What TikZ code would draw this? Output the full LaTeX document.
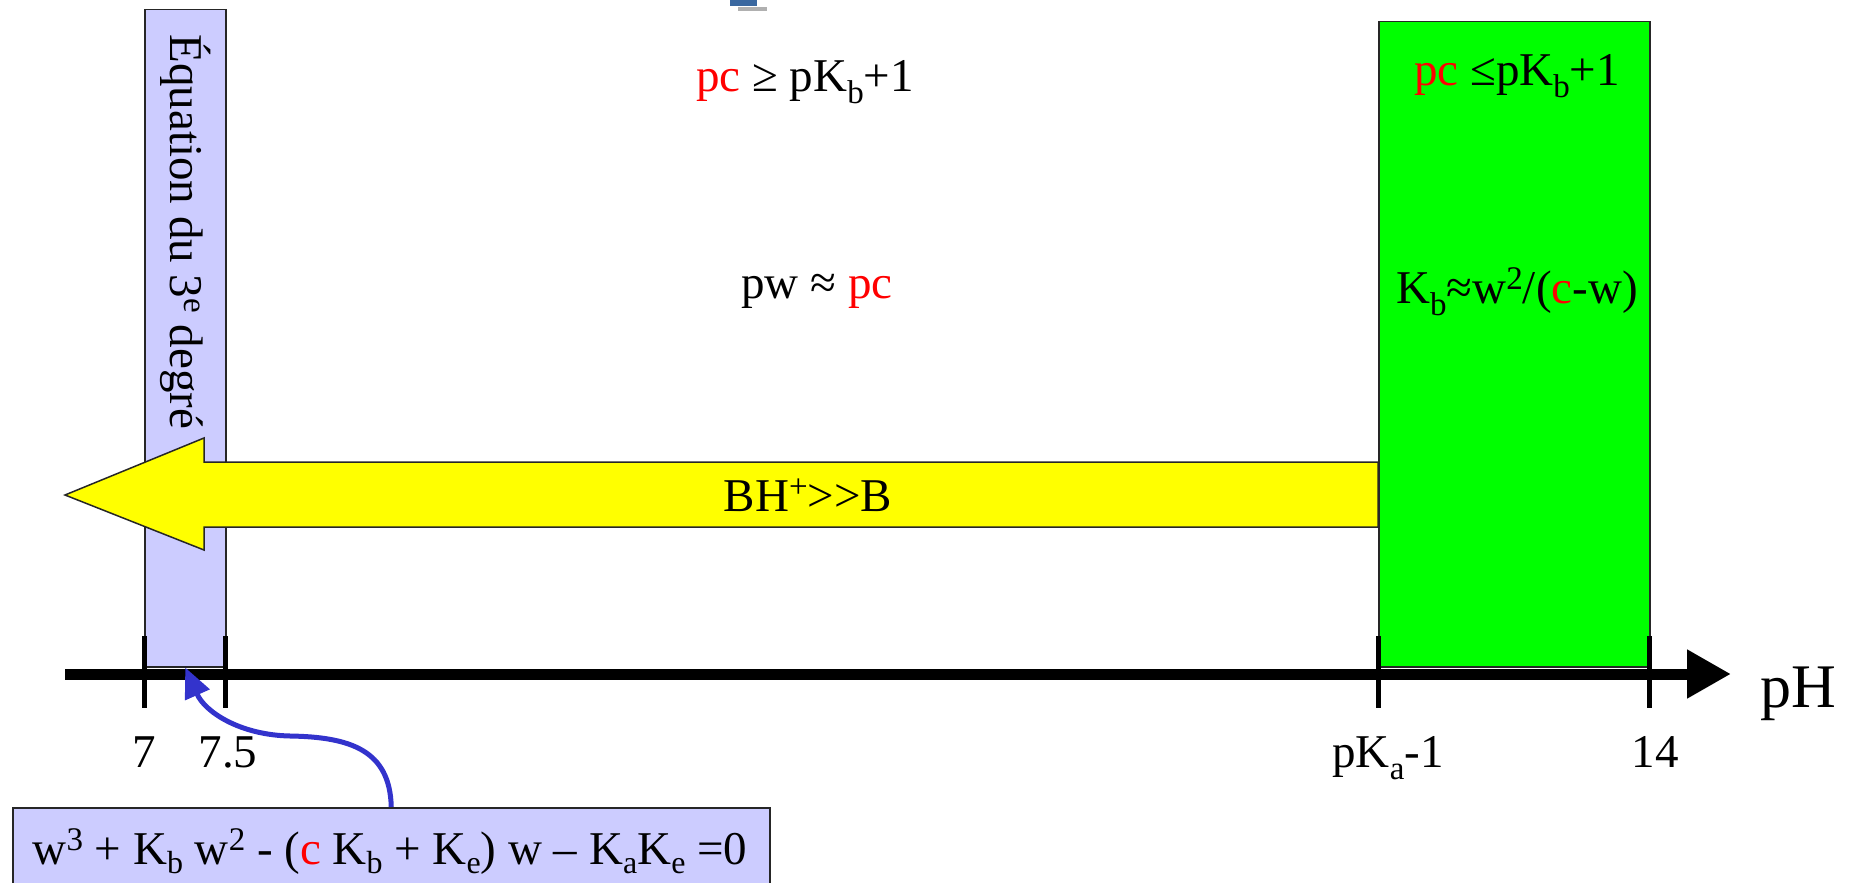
\documentclass[tikz,border=0pt]{standalone}
\usepackage{fontspec}
\setmainfont{Liberation Serif}
\usetikzlibrary{arrows.meta}
\definecolor{lav}{RGB}{204,204,255}
\definecolor{grn}{RGB}{0,255,0}
\definecolor{ylw}{RGB}{255,255,0}
\definecolor{rd}{RGB}{255,0,0}
\definecolor{blu}{RGB}{51,51,204}
\definecolor{logoblue}{RGB}{58,104,160}
\definecolor{logogrey}{RGB}{176,176,176}
\newcommand{\rc}[1]{\textcolor{rd}{#1}}
\newcommand{\sbs}[1]{\raisebox{-12pt}{\fontsize{33}{33}\selectfont #1}}
\newcommand{\sbsl}[1]{\raisebox{-9pt}{\fontsize{32}{32}\selectfont #1}}
\newcommand{\sps}[1]{\raisebox{14pt}{\fontsize{33}{33}\selectfont #1}}
\begin{document}
\begin{tikzpicture}[x=1pt,y=-1pt,
  txt/.style={font=\fontsize{47}{56}\selectfont, inner sep=0pt, anchor=base},
  boxline/.style={draw=black!85, line width=1.5pt},
  tickline/.style={line width=5pt, black},
  axisline/.style={line width=11pt, black, -{Triangle[length=44pt,width=46pt]}},
  linkarrow/.style={line width=5pt, blu, -{Triangle[length=30pt,width=26pt]}}]
\useasboundingbox (0,0) rectangle (1856,883);
% partial logo at top
\fill[logoblue] (730,0) rectangle (757,6);
\fill[logogrey] (738,7) rectangle (767,11);
% lavender band
\node[boxline, fill=lav, anchor=north west, minimum width=81pt, minimum height=657pt, inner sep=0pt] (lavbox) at (144,9) {};
\node[txt, anchor=center, rotate=-90] (vtext) at (186,232) {Équation du 3\sps{e} degré};
% yellow arrow
\filldraw[boxline, fill=ylw] (1378,462) -- (204,462) -- (204,438) -- (65,495) -- (204,550) -- (204,527) -- (1378,527) -- cycle;
\node[txt] (bh) at (808,511) {BH\sps{+}>{}>B};
% green box
\node[boxline, fill=grn, anchor=north west, minimum width=271pt, minimum height=645pt, inner sep=0pt] (gbox) at (1378,21) {};
\node[txt] (g1) at (1517,85) {\rc{pc} ≤pK\sbs{b}+1};
\node[txt] (g2) at (1517,303) {K\sbs{b}≈w\sps{2}/(\rc{c}-w)};
% middle texts
\node[txt] (t1) at (805,92) {\rc{pc} ≥ pK\sbs{b}+1};
\node[txt] (t2) at (817,298) {pw ≈ \rc{pc}};
% axis
\coordinate (axL) at (65,674);
\coordinate (axR) at (1731,674);
\draw[axisline] (axL) -- (axR);
\node[font=\fontsize{62}{70}\selectfont, inner sep=0pt, anchor=base west] (ph) at (1760,707) {pH};
% ticks
\coordinate (k1) at (144,674);
\coordinate (k2) at (225,674);
\coordinate (k3) at (1378,674);
\coordinate (k4) at (1649,674);
\foreach \k in {k1,k2,k3,k4} \draw[tickline] (\k) ++(0,-38) -- ++(0,72);
\node[txt] (l1) at (144,767) {7};
\node[txt] (l2) at (228,767) {7.5};
\node[txt] (l3) at (1388,767) {pK\sbs{a}-1};
\node[txt] (l4) at (1655,767) {14};
% equation box
\node[boxline, fill=lav, anchor=north west, minimum width=757pt, minimum height=90pt, inner sep=0pt] (eq) at (12,807) {};
\node[txt] (eqtext) at (390,864) {w\sps{3} + K\sbsl{b} w\sps{2} - (\rc{c} K\sbsl{b} + K\sbsl{e}) w – K\sbsl{a}K\sbsl{e} =0};
% link arrow
\draw[linkarrow] (eq.north) .. controls (390,750) and (350,737) .. (290,736) .. controls (240,735) and (205,712) .. (lavbox.south);
\end{tikzpicture}
\end{document}
